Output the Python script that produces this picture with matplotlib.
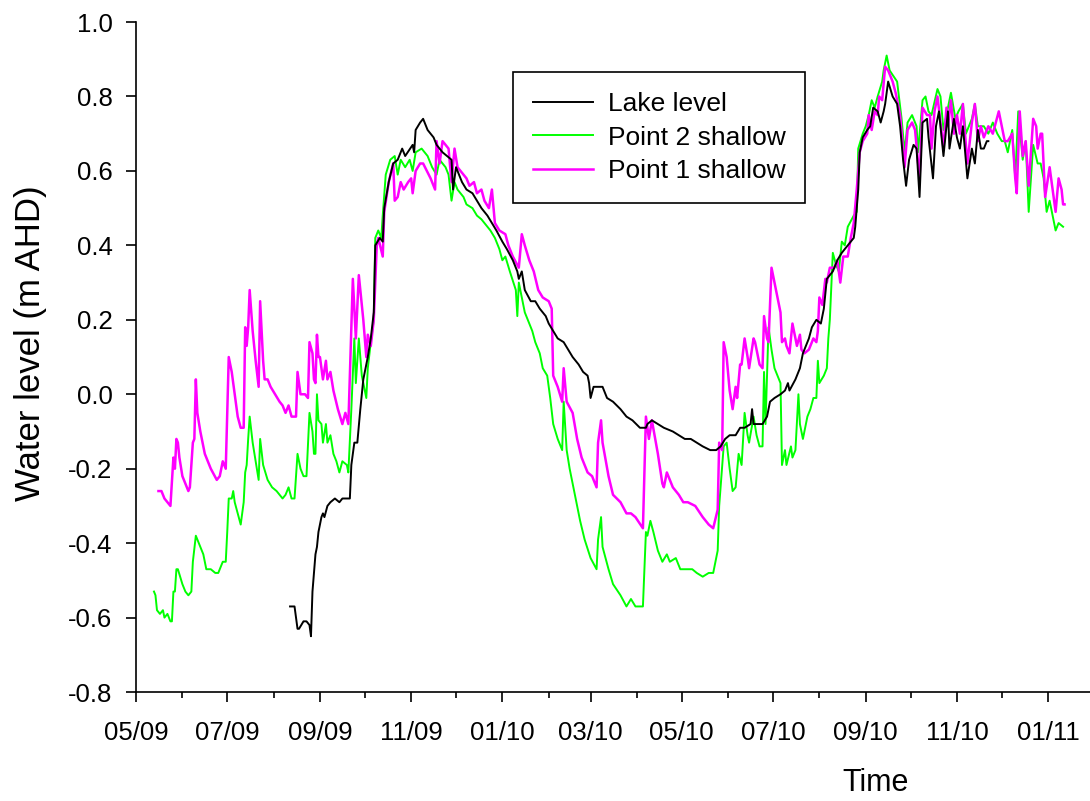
import numpy as np
import matplotlib
matplotlib.use("Agg")
import matplotlib.pyplot as plt
import matplotlib.dates as mdates
from matplotlib.ticker import FormatStrFormatter, MultipleLocator

plt.rcParams["font.family"] = ["Liberation Sans", "DejaVu Sans"]
plt.rcParams["axes.unicode_minus"] = False

# days counted from 1 May 2009, levels in m AHD
START = np.datetime64("2009-05-01")

lake_days = [103, 106, 108, 109, 112, 114, 116, 117, 118, 120, 121, 122, 124, 125, 126, 128,
             130, 133, 136, 138, 143, 144, 146, 148, 150, 152, 155, 157, 159, 160, 163, 165,
             166, 169, 172, 175, 178, 180, 185, 186, 187, 190, 192, 195, 199, 201, 205, 208,
             211, 212, 214, 218, 221, 225, 228, 231, 235, 238, 241, 245, 248, 252, 255, 256,
             258, 260, 264, 267, 270, 274, 276, 279, 282, 286, 289, 292, 296, 299, 302, 303,
             304, 306, 309, 312, 315, 319, 324, 328, 332, 337, 341, 342, 345, 349, 353, 359,
             363, 367, 371, 375, 379, 384, 388, 391, 394, 397, 401, 404, 407, 411, 412, 413,
             416, 419, 422, 424, 427, 431, 434, 436, 437, 441, 444, 446, 450, 452, 455, 458,
             460, 462, 466, 469, 472, 476, 480, 481, 483, 484, 486, 489, 491, 493, 496, 498,
             500, 501, 503, 506, 509, 511, 513, 515, 517, 520, 522, 524, 526, 529, 530, 533,
             535, 537, 540, 543, 544, 547, 549, 551, 553, 556, 559, 561, 563, 565, 567, 569,
             570]
lake_level = [-0.57, -0.57, -0.63, -0.63, -0.61, -0.61, -0.62, -0.65, -0.53, -0.43, -0.41, -0.37,
              -0.33, -0.32, -0.33, -0.30, -0.29, -0.28, -0.29, -0.28, -0.28, -0.19, -0.13, -0.13,
              -0.04, 0.04, 0.10, 0.15, 0.22, 0.40, 0.42, 0.41, 0.50, 0.57, 0.62, 0.63,
              0.66, 0.64, 0.67, 0.65, 0.71, 0.73, 0.74, 0.71, 0.69, 0.67, 0.65, 0.64,
              0.63, 0.55, 0.61, 0.57, 0.55, 0.54, 0.52, 0.50, 0.48, 0.46, 0.44, 0.41,
              0.39, 0.36, 0.33, 0.31, 0.33, 0.28, 0.25, 0.25, 0.23, 0.21, 0.19, 0.17,
              0.15, 0.14, 0.12, 0.10, 0.08, 0.06, 0.05, 0.03, -0.01, 0.02, 0.02, 0.02,
              -0.01, -0.02, -0.04, -0.06, -0.07, -0.09, -0.09, -0.08, -0.07, -0.08, -0.09, -0.10,
              -0.11, -0.12, -0.12, -0.13, -0.14, -0.15, -0.15, -0.14, -0.12, -0.11, -0.11, -0.09,
              -0.09, -0.08, -0.04, -0.08, -0.08, -0.08, -0.06, -0.02, -0.01, 0.00, 0.01, 0.03,
              0.01, 0.04, 0.07, 0.11, 0.15, 0.18, 0.20, 0.19, 0.23, 0.31, 0.33, 0.36,
              0.38, 0.40, 0.42, 0.45, 0.55, 0.65, 0.69, 0.71, 0.72, 0.77, 0.76, 0.73,
              0.76, 0.78, 0.84, 0.80, 0.78, 0.72, 0.63, 0.56, 0.63, 0.67, 0.66, 0.53,
              0.73, 0.74, 0.69, 0.58, 0.72, 0.76, 0.64, 0.76, 0.66, 0.74, 0.69, 0.66,
              0.72, 0.58, 0.66, 0.62, 0.71, 0.66, 0.66, 0.68, 0.68]

p2_days = [12, 13, 14, 16, 18, 19, 21, 23, 24, 25, 26, 27, 28, 31, 33, 35, 37, 38, 40, 43,
           45, 47, 50, 53, 55, 58, 60, 61, 62, 64, 65, 66, 70, 72, 73, 74, 75, 76, 78, 82,
           83, 85, 88, 91, 94, 96, 98, 100, 102, 104, 106, 108, 110, 112, 114, 116, 118, 119,
           120, 121, 122, 124, 125, 127, 128, 130, 132, 134, 136, 138, 141, 142, 144, 146, 147,
           149, 151, 154, 155, 157, 159, 160, 162, 164, 165, 167, 170, 173, 175, 177, 180, 183,
           185, 187, 191, 195, 198, 201, 203, 207, 209, 211, 213, 215, 219, 221, 225, 228, 231,
           235, 237, 240, 243, 245, 247, 250, 254, 255, 256, 260, 265, 267, 270, 272, 275, 277,
           279, 282, 285, 286, 288, 290, 294, 297, 300, 304, 308, 309, 311, 312, 316, 319, 324,
           328, 331, 334, 339, 341, 342, 344, 346, 349, 352, 355, 357, 361, 364, 366, 369, 372,
           375, 379, 383, 386, 389, 390, 393, 395, 397, 399, 401, 403, 405, 407, 409, 410, 413,
           415, 417, 419, 420, 421, 423, 425, 427, 429, 431, 432, 434, 435, 438, 439, 441, 443,
           444, 446, 449, 451, 453, 455, 456, 457, 460, 462, 463, 464, 466, 468, 470, 472, 474,
           476, 480, 482, 483, 486, 488, 490, 492, 494, 496, 499, 500, 502, 504, 509, 512, 514,
           516, 519, 522, 523, 526, 528, 530, 532, 536, 538, 540, 543, 545, 548, 550, 553, 555,
           559, 561, 563, 567, 570, 573, 576, 579, 581, 583, 586, 588, 590, 593, 595, 597, 600,
           603, 605, 607, 609, 611, 613, 615, 617, 620]
p2_level = [-0.53, -0.54, -0.58, -0.59, -0.58, -0.60, -0.59, -0.61, -0.61, -0.53, -0.53, -0.47,
            -0.47, -0.51, -0.53, -0.54, -0.53, -0.45, -0.38, -0.41, -0.43, -0.47, -0.47, -0.48,
            -0.48, -0.45, -0.45, -0.37, -0.28, -0.28, -0.26, -0.29, -0.35, -0.29, -0.21, -0.19,
            -0.12, -0.06, -0.13, -0.23, -0.12, -0.19, -0.23, -0.25, -0.26, -0.27, -0.28, -0.27,
            -0.25, -0.28, -0.28, -0.16, -0.20, -0.22, -0.22, -0.05, -0.10, -0.16, -0.16, 0.00,
            -0.07, -0.08, -0.13, -0.08, -0.13, -0.11, -0.16, -0.18, -0.21, -0.18, -0.19, -0.21,
            -0.04, 0.15, 0.03, 0.15, 0.05, -0.01, 0.07, 0.14, 0.20, 0.42, 0.44, 0.42,
            0.48, 0.59, 0.63, 0.64, 0.59, 0.63, 0.61, 0.63, 0.60, 0.65, 0.66, 0.64,
            0.61, 0.59, 0.63, 0.61, 0.59, 0.52, 0.57, 0.55, 0.53, 0.51, 0.50, 0.48,
            0.47, 0.45, 0.44, 0.42, 0.39, 0.36, 0.37, 0.33, 0.28, 0.21, 0.30, 0.22,
            0.17, 0.14, 0.11, 0.07, 0.05, -0.01, -0.08, -0.12, -0.15, -0.02, -0.15, -0.20,
            -0.28, -0.34, -0.39, -0.44, -0.47, -0.39, -0.33, -0.41, -0.47, -0.51, -0.54, -0.57,
            -0.55, -0.57, -0.57, -0.37, -0.38, -0.34, -0.37, -0.42, -0.45, -0.43, -0.45, -0.44,
            -0.47, -0.47, -0.47, -0.47, -0.48, -0.49, -0.48, -0.48, -0.42, -0.30, -0.14, -0.13,
            -0.20, -0.26, -0.25, -0.16, -0.19, -0.05, -0.11, -0.13, -0.06, -0.11, -0.14, -0.14,
            0.06, -0.08, 0.18, 0.12, 0.07, 0.05, 0.03, -0.19, -0.15, -0.19, -0.14, -0.17,
            -0.15, 0.00, -0.08, -0.12, -0.06, -0.04, -0.01, -0.01, 0.09, 0.03, 0.05, 0.07,
            0.15, 0.20, 0.38, 0.35, 0.33, 0.41, 0.40, 0.45, 0.48, 0.49, 0.66, 0.70,
            0.72, 0.75, 0.79, 0.77, 0.80, 0.84, 0.87, 0.91, 0.87, 0.84, 0.74, 0.65,
            0.73, 0.75, 0.72, 0.65, 0.79, 0.80, 0.76, 0.75, 0.82, 0.80, 0.71, 0.77,
            0.81, 0.74, 0.76, 0.78, 0.70, 0.74, 0.78, 0.72, 0.72, 0.70, 0.73, 0.70,
            0.68, 0.68, 0.65, 0.71, 0.58, 0.76, 0.63, 0.68, 0.49, 0.67, 0.62, 0.62,
            0.58, 0.49, 0.52, 0.48, 0.44, 0.46, 0.45]

p1_days = [15, 17, 19, 23, 25, 26, 27, 28, 29, 31, 35, 36, 38, 39, 40, 41, 43, 46, 50, 54,
           56, 58, 60, 62, 64, 65, 68, 70, 72, 73, 74, 75, 76, 78, 80, 82, 83, 85, 86, 88,
           90, 93, 96, 98, 100, 102, 104, 107, 108, 110, 113, 115, 116, 118, 119, 120, 121, 122,
           123, 125, 127, 128, 130, 132, 135, 138, 140, 142, 145, 147, 149, 152, 154, 155, 157,
           159, 161, 162, 165, 166, 169, 172, 173, 175, 177, 179, 182, 184, 185, 187, 190, 192,
           197, 200, 201, 203, 205, 209, 211, 213, 215, 219, 221, 223, 226, 228, 231, 233, 236,
           238, 240, 243, 247, 249, 252, 256, 258, 260, 263, 266, 269, 272, 276, 278, 279, 282,
           285, 286, 288, 292, 295, 298, 302, 305, 308, 309, 311, 312, 316, 319, 324, 328, 331,
           334, 339, 341, 343, 345, 349, 352, 353, 355, 359, 363, 366, 369, 374, 379, 383, 386,
           389, 390, 391, 392, 393, 395, 397, 399, 401, 402, 404, 405, 407, 409, 410, 413, 414,
           417, 419, 420, 422, 423, 425, 427, 431, 432, 434, 435, 437, 439, 441, 442, 444, 445,
           447, 450, 453, 455, 456, 457, 459, 461, 462, 464, 467, 469, 471, 473, 476, 478, 480,
           482, 484, 486, 489, 490, 492, 494, 496, 497, 499, 501, 503, 506, 508, 511, 514, 516,
           519, 521, 524, 526, 529, 531, 532, 534, 536, 540, 542, 543, 545, 547, 549, 551, 553,
           554, 556, 559, 561, 563, 565, 567, 570, 573, 575, 577, 579, 581, 583, 586, 588, 589,
           591, 593, 595, 597, 600, 602, 603, 605, 606, 608, 611, 613, 615, 617, 619, 620, 621]
p1_level = [-0.26, -0.26, -0.28, -0.30, -0.17, -0.20, -0.12, -0.13, -0.17, -0.22, -0.26, -0.25,
            -0.13, -0.12, 0.04, -0.05, -0.10, -0.16, -0.20, -0.23, -0.22, -0.18, -0.20, 0.10,
            0.06, 0.03, -0.06, -0.09, -0.09, 0.18, 0.13, 0.18, 0.28, 0.17, 0.09, 0.02,
            0.25, 0.09, 0.04, 0.04, 0.02, 0.00, -0.02, -0.03, -0.05, -0.03, -0.06, -0.06,
            0.06, 0.00, 0.00, -0.01, 0.14, 0.11, 0.04, 0.03, 0.16, 0.10, 0.10, 0.04,
            0.09, 0.04, 0.06, 0.01, -0.04, -0.08, -0.05, -0.08, 0.31, 0.15, 0.32, 0.20,
            0.10, 0.16, 0.13, 0.20, 0.40, 0.42, 0.37, 0.49, 0.57, 0.62, 0.52, 0.53,
            0.57, 0.55, 0.57, 0.58, 0.54, 0.60, 0.62, 0.62, 0.58, 0.55, 0.68, 0.62,
            0.68, 0.66, 0.57, 0.66, 0.61, 0.59, 0.58, 0.56, 0.57, 0.54, 0.55, 0.52,
            0.50, 0.55, 0.46, 0.44, 0.43, 0.40, 0.37, 0.34, 0.43, 0.40, 0.36, 0.33,
            0.28, 0.26, 0.25, 0.23, 0.05, 0.02, -0.02, 0.07, -0.02, -0.05, -0.12, -0.17,
            -0.21, -0.22, -0.25, -0.13, -0.07, -0.13, -0.22, -0.27, -0.29, -0.32, -0.32, -0.33,
            -0.36, -0.06, -0.12, -0.07, -0.16, -0.24, -0.25, -0.21, -0.25, -0.27, -0.29, -0.29,
            -0.30, -0.33, -0.35, -0.36, -0.31, -0.13, -0.14, -0.15, 0.14, 0.10, 0.01, -0.04,
            0.02, -0.01, 0.08, 0.08, 0.15, 0.10, 0.07, 0.15, 0.14, 0.08, 0.07, 0.21,
            0.15, 0.14, 0.34, 0.30, 0.22, 0.14, 0.15, 0.13, 0.11, 0.19, 0.15, 0.13,
            0.16, 0.12, 0.11, 0.12, 0.15, 0.14, 0.17, 0.26, 0.24, 0.31, 0.30, 0.34,
            0.34, 0.36, 0.30, 0.37, 0.37, 0.42, 0.46, 0.55, 0.65, 0.68, 0.70, 0.75,
            0.71, 0.76, 0.75, 0.80, 0.79, 0.88, 0.87, 0.84, 0.81, 0.75, 0.61, 0.71,
            0.73, 0.71, 0.58, 0.77, 0.75, 0.75, 0.66, 0.76, 0.80, 0.66, 0.77, 0.72,
            0.79, 0.70, 0.75, 0.70, 0.78, 0.72, 0.62, 0.73, 0.78, 0.68, 0.72, 0.69,
            0.72, 0.70, 0.73, 0.76, 0.72, 0.68, 0.68, 0.70, 0.58, 0.54, 0.76, 0.64,
            0.68, 0.56, 0.74, 0.72, 0.66, 0.70, 0.70, 0.53, 0.61, 0.55, 0.49, 0.58,
            0.55, 0.51, 0.51]


def to_dates(days):
    return START + np.array(days).astype("timedelta64[D]")


fig = plt.figure(figsize=(10.9, 8.01), dpi=100)
ax = fig.add_axes([0.1248, 0.136, 0.8752, 0.8365])

ax.plot(to_dates(lake_days), lake_level, color="black", lw=1.4, label="Lake level", zorder=3)
ax.plot(to_dates(p2_days), p2_level, color="#00ff00", lw=1.4, label="Point 2 shallow")
ax.plot(to_dates(p1_days), p1_level, color="#ff00ff", lw=1.8, label="Point 1 shallow")

ax.set_xlim(START, START + np.timedelta64(638, "D"))
ax.set_ylim(-0.8, 1.0)

ax.xaxis.set_major_locator(mdates.MonthLocator(bymonth=[1, 3, 5, 7, 9, 11]))
ax.xaxis.set_minor_locator(mdates.MonthLocator())
ax.xaxis.set_major_formatter(mdates.DateFormatter("%m/%y"))
ax.yaxis.set_major_locator(MultipleLocator(0.2))
ax.yaxis.set_major_formatter(FormatStrFormatter("%.1f"))

for side in ("top", "right"):
    ax.spines[side].set_visible(False)
for side in ("left", "bottom"):
    ax.spines[side].set_linewidth(1.2)

ax.tick_params(axis="both", which="major", direction="out", length=7, width=1.2,
               labelsize=18.5)
ax.tick_params(axis="x", which="major", pad=14)
ax.tick_params(axis="x", which="minor", direction="out", length=4.5, width=1.2)
ax.tick_params(axis="y", which="major", pad=10)

ax.set_ylabel("Water level (m AHD)", fontsize=25)
ax.yaxis.set_label_coords(-0.093, 0.52)
ax.set_xlabel("Time", fontsize=22)
ax.xaxis.set_label_coords(0.775, -0.113)

leg = ax.legend(loc="upper left", bbox_to_anchor=(0.395, 0.925), fontsize=19,
                handlelength=2.27, handletextpad=0.57, borderpad=0.75, labelspacing=0.36,
                borderaxespad=0, fancybox=False, framealpha=1, edgecolor="black")
leg.get_frame().set_linewidth(1.2)

fig.savefig("out.png", dpi=100)
